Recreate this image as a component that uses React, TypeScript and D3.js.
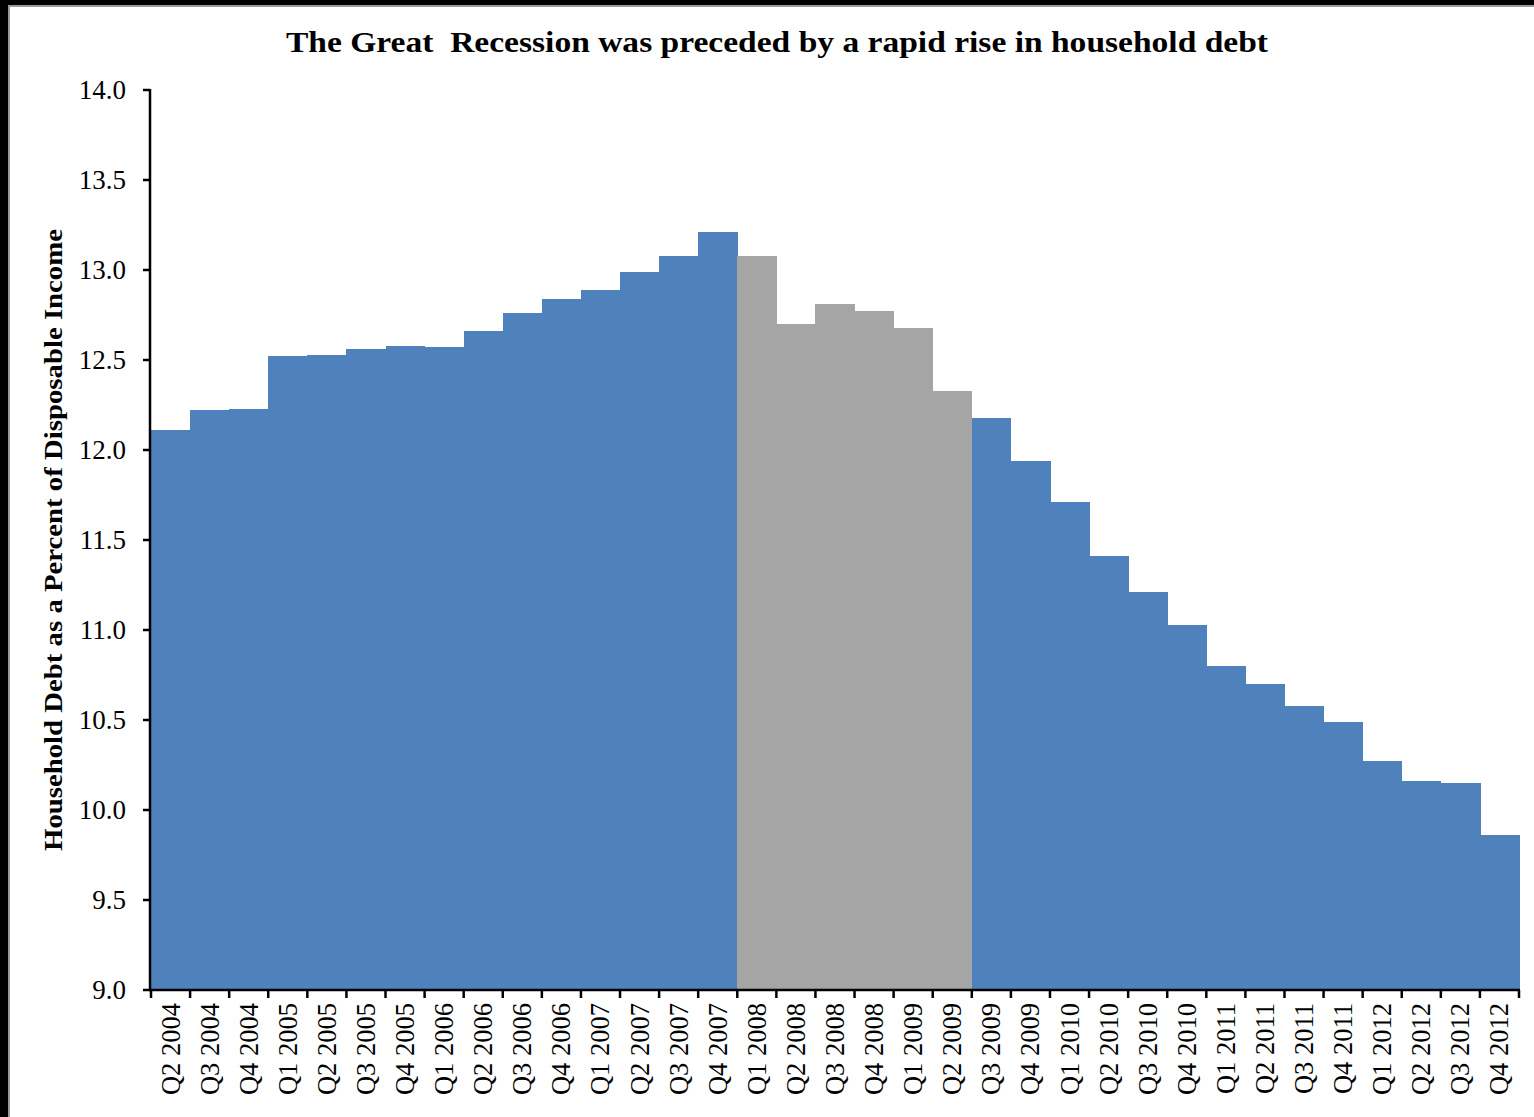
import React from "react";
import * as d3 from "d3";

const quarters = [
  "Q2 2004", "Q3 2004", "Q4 2004",
  "Q1 2005", "Q2 2005", "Q3 2005", "Q4 2005",
  "Q1 2006", "Q2 2006", "Q3 2006", "Q4 2006",
  "Q1 2007", "Q2 2007", "Q3 2007", "Q4 2007",
  "Q1 2008", "Q2 2008", "Q3 2008", "Q4 2008",
  "Q1 2009", "Q2 2009", "Q3 2009", "Q4 2009",
  "Q1 2010", "Q2 2010", "Q3 2010", "Q4 2010",
  "Q1 2011", "Q2 2011", "Q3 2011", "Q4 2011",
  "Q1 2012", "Q2 2012", "Q3 2012", "Q4 2012",
];

const debtRatio = [
  12.11, 12.22, 12.23,
  12.52, 12.53, 12.56, 12.58,
  12.57, 12.66, 12.76, 12.84,
  12.89, 12.99, 13.08, 13.21,
  13.08, 12.70, 12.81, 12.77,
  12.68, 12.33, 12.18, 11.94,
  11.71, 11.41, 11.21, 11.03,
  10.80, 10.70, 10.58, 10.49,
  10.27, 10.16, 10.15, 9.86,
];

const recessionQuarters = ["Q1 2008", "Q2 2008", "Q3 2008", "Q4 2008", "Q1 2009", "Q2 2009"];

const yTicks = [9.0, 9.5, 10.0, 10.5, 11.0, 11.5, 12.0, 12.5, 13.0, 13.5, 14.0];

const titleText = "The Great  Recession was preceded by a rapid rise in household debt";
const yLabelText = "Household Debt as a Percent of Disposable Income";

const BLUE = "#4F81BD";
const GRAY = "#A5A5A5";
const FONT = "'Liberation Serif', 'DejaVu Serif', serif";

export default function App() {
  const W = 1534;
  const H = 1117;
  const left = 151;
  const right = 1519;
  const top = 90;
  const bottom = 990;

  const x = d3.scaleBand<string>().domain(quarters).range([left, right]).padding(0);
  const y = d3.scaleLinear().domain([9, 14]).range([bottom, top]);
  const bw = x.bandwidth();

  const boundaries = quarters.map((q) => x(q) as number).concat([right]);

  return (
    <svg
      width={W}
      height={H}
      style={{ position: "absolute", left: 0, top: 0, background: "#fff" }}
      fontFamily={FONT}
    >
      <rect x={0} y={0} width={W} height={H} fill="#fff" />
      {/* frame */}
      <rect x={0} y={0} width={8} height={H} fill="#000" />
      <rect x={0} y={0} width={W} height={5} fill="#000" />
      <line x1={9} x2={9} y1={5} y2={H} stroke="#9a9a9a" strokeWidth={2} />
      <line x1={8} x2={W} y1={6} y2={6} stroke="#9a9a9a" strokeWidth={2} />

      {/* title */}
      <text
        x={777}
        y={52}
        textAnchor="middle"
        fontSize={30}
        fontWeight="bold"
        textLength={982}
        lengthAdjust="spacingAndGlyphs"
        style={{ whiteSpace: "pre" }}
      >
        {titleText}
      </text>

      {/* bars */}
      <g shapeRendering="crispEdges">
        {quarters.map((q, i) => (
          <rect
            key={q}
            x={x(q) as number}
            y={y(debtRatio[i])}
            width={bw + 0.6}
            height={y(9) - y(debtRatio[i])}
            fill={recessionQuarters.includes(q) ? GRAY : BLUE}
          />
        ))}
      </g>

      {/* y axis */}
      <line x1={150} x2={150} y1={top - 1} y2={bottom + 1} stroke="#000" strokeWidth={2.5} />
      {yTicks.map((t) => (
        <g key={t}>
          <line x1={143} x2={150} y1={y(t)} y2={y(t)} stroke="#000" strokeWidth={2.5} />
          <text x={126} y={y(t) + 9} textAnchor="end" fontSize={27}>
            {t.toFixed(1)}
          </text>
        </g>
      ))}

      {/* x axis */}
      <line x1={149} x2={right + 1} y1={bottom} y2={bottom} stroke="#000" strokeWidth={2.5} />
      {boundaries.map((b, i) => (
        <line key={i} x1={b} x2={b} y1={bottom} y2={bottom + 8} stroke="#000" strokeWidth={2.5} />
      ))}
      {quarters.map((q) => {
        const cx = (x(q) as number) + bw / 2;
        return (
          <text
            key={q}
            transform={`translate(${cx + 9},${bottom + 13}) rotate(-90)`}
            textAnchor="end"
            fontSize={26.5}
          >
            {q}
          </text>
        );
      })}

      {/* y label */}
      <text
        transform={`translate(62,540) rotate(-90)`}
        textAnchor="middle"
        fontSize={25}
        fontWeight="bold"
        textLength={622}
        lengthAdjust="spacingAndGlyphs"
      >
        {yLabelText}
      </text>
    </svg>
  );
}
